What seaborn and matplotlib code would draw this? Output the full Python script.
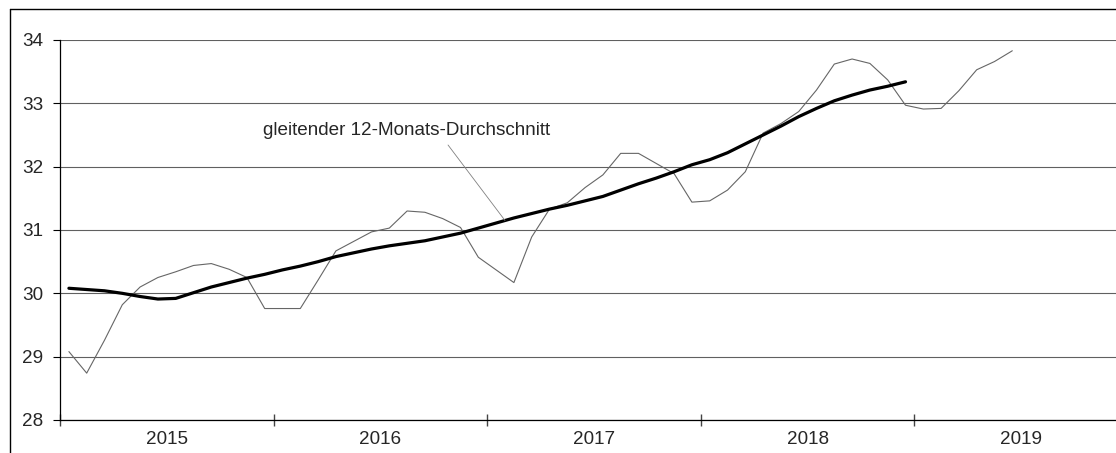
import numpy as np
import pandas as pd
import matplotlib
matplotlib.use("Agg")
import matplotlib.pyplot as plt
import seaborn as sns

# Monatswerte Jan 2015 - Jun 2019
werte = [29.08, 28.74, 29.26, 29.82, 30.10, 30.25, 30.34, 30.44, 30.47, 30.38, 30.25, 29.76,
         29.76, 29.76, 30.21, 30.67, 30.82, 30.97, 31.03, 31.30, 31.28, 31.18, 31.04, 30.57,
         30.37, 30.17, 30.89, 31.33, 31.43, 31.67, 31.87, 32.21, 32.21, 32.05, 31.89, 31.44,
         31.46, 31.63, 31.92, 32.53, 32.68, 32.87, 33.21, 33.62, 33.70, 33.63, 33.37, 32.97,
         32.91, 32.92, 33.20, 33.53, 33.66, 33.83]

# gleitender 12-Monats-Durchschnitt Jan 2015 - Dez 2018
durchschnitt = [30.08, 30.06, 30.04, 30.00, 29.95, 29.91, 29.92, 30.01, 30.10, 30.17, 30.24, 30.30,
                30.37, 30.43, 30.50, 30.58, 30.64, 30.70, 30.75, 30.79, 30.83, 30.89, 30.95, 31.03,
                31.11, 31.19, 31.26, 31.33, 31.39, 31.46, 31.53, 31.63, 31.73, 31.82, 31.92, 32.03,
                32.11, 32.22, 32.36, 32.50, 32.64, 32.79, 32.92, 33.04, 33.13, 33.21, 33.27, 33.34]

jahre = ["2015", "2016", "2017", "2018", "2019"]
y_ticks = [28, 29, 30, 31, 32, 33, 34]
label = "gleitender 12-Monats-Durchschnitt"

df_w = pd.DataFrame({"monat": np.arange(len(werte)), "wert": werte})
df_d = pd.DataFrame({"monat": np.arange(len(durchschnitt)), "wert": durchschnitt})

sns.set_style("white")
plt.rcParams["font.family"] = ["Liberation Sans", "DejaVu Sans"]

W, H = 1116, 453
fig = plt.figure(figsize=(W / 100, H / 100), dpi=100)
ax = fig.add_axes([60 / W, 33 / H, 1068 / W, 380 / H])

sns.lineplot(data=df_w, x="monat", y="wert", color="#666666", lw=0.8, ax=ax)
sns.lineplot(data=df_d, x="monat", y="wert", color="black", lw=2.3, ax=ax)

n_monate = 12 * len(jahre)
ax.set_xlim(-0.5, n_monate - 0.5)
ax.set_ylim(y_ticks[0], y_ticks[-1])
ax.set_yticks(y_ticks)
ax.set_yticklabels([str(t) for t in y_ticks], fontsize=13.6)
ax.yaxis.grid(True, color="#606060", lw=0.8)
ax.set_axisbelow(True)

ax.set_xticks(np.arange(-0.5, n_monate, 12))
ax.set_xticklabels([])
ax.set_xticks(np.arange(5.5, n_monate, 12), minor=True)
ax.set_xticklabels(jahre, minor=True, fontsize=13.6)
ax.tick_params(axis="x", which="major", direction="inout", length=9, width=1, color="#444444", bottom=True)
ax.tick_params(axis="x", which="minor", length=0, pad=8)
ax.tick_params(axis="y", direction="out", length=5, width=0.8, color="black", pad=7, left=True)

ax.set_xlabel("")
ax.set_ylabel("")
for s in ["top", "right"]:
    ax.spines[s].set_visible(False)
for s in ["left", "bottom"]:
    ax.spines[s].set_color("black")
    ax.spines[s].set_linewidth(0.9)

# Beschriftung mit Hinweislinie
i_ziel = 24
ax.annotate(label, xy=(i_ziel + 0.5, (durchschnitt[i_ziel] + durchschnitt[i_ziel + 1]) / 2),
            xytext=(263 / W, 1 - 131 / H), textcoords="figure fraction",
            ha="left", va="center", fontsize=13.6,
            arrowprops=dict(arrowstyle="-", color="#808080", lw=0.6,
                            relpos=(0.63, 0.0), shrinkA=2, shrinkB=0))

# Rahmen des Diagrammbereichs
fig.add_artist(plt.Line2D([10 / W, 10 / W], [0, 1 - 9 / H], transform=fig.transFigure, color="black", lw=1))
fig.add_artist(plt.Line2D([10 / W, 1], [1 - 9 / H, 1 - 9 / H], transform=fig.transFigure, color="black", lw=1))

fig.savefig("out.png", dpi=100)
